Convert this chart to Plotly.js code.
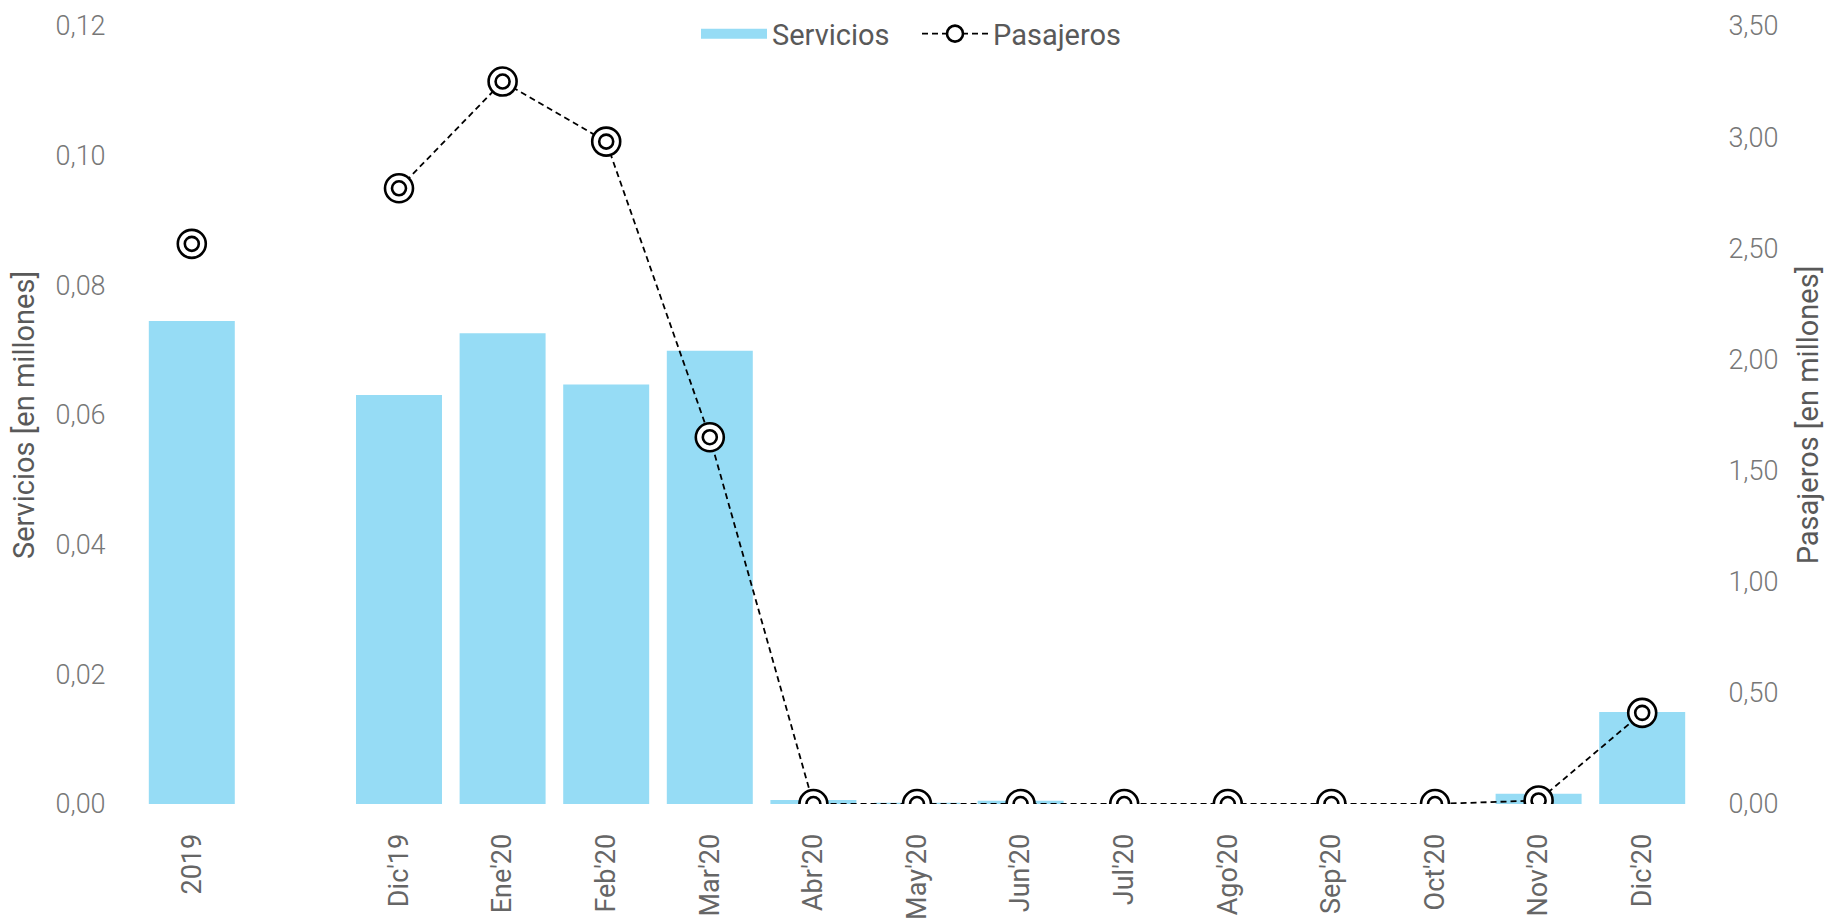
<!DOCTYPE html>
<html>
<head>
<meta charset="utf-8">
<script src="https://cdn.plot.ly/plotly-3.0.1.min.js"></script>
<style>html,body{margin:0;padding:0;background:#fff;}#chart{width:1828px;height:918px;}</style>
</head>
<body>
<div id="chart"></div>
<script>
const categories = ["2019", " ", "Dic'19", "Ene'20", "Feb'20", "Mar'20", "Abr'20", "May'20", "Jun'20", "Jul'20", "Ago'20", "Sep'20", "Oct'20", "Nov'20", "Dic'20"];
const servicios = [0.0745, null, 0.0631, 0.0726, 0.0647, 0.0699, 0.0006, 0.0002, 0.0005, 0.0, 0.0, 0.0, 0.0, 0.0016, 0.0142];
const pasajeros = [2.52, null, 2.77, 3.25, 2.98, 1.65, 0.0, 0.0, 0.0, 0.0, 0.0, 0.0, 0.0, 0.016, 0.41];
const leftTicks = [0, 0.02, 0.04, 0.06, 0.08, 0.10, 0.12];
const leftTickText = ["0,00", "0,02", "0,04", "0,06", "0,08", "0,10", "0,12"];
const rightTicks = [0, 0.5, 1, 1.5, 2, 2.5, 3, 3.5];
const rightTickText = ["0,00", "0,50", "1,00", "1,50", "2,00", "2,50", "3,00", "3,50"];

const FONT = "Roboto, 'Noto Sans', sans-serif";
const BAR_COLOR = '#96dcf5';
const traces = [
  {
    type: 'bar', name: 'Servicios', x: categories, y: servicios,
    marker: {color: BAR_COLOR}, yaxis: 'y', showlegend: false, legendgroup: 's'
  },
  {
    // legend swatch for the bars (wide rectangle as in the reference)
    type: 'scatter', mode: 'lines', name: 'Servicios', x: [null], y: [null],
    yaxis: 'y', legendgroup: 's', hoverinfo: 'skip',
    line: {color: BAR_COLOR, width: 18}
  },
  {
    type: 'scatter', mode: 'lines+markers', name: 'Pasajeros', x: categories, y: pasajeros,
    yaxis: 'y2', connectgaps: false,
    line: {color: '#000', width: 1.8, dash: '6px,4px'},
    marker: {symbol: 'circle', size: 28, color: '#fff', line: {color: '#000', width: 2.6}}
  },
  {
    type: 'scatter', mode: 'markers', name: 'Pasajeros', x: categories, y: pasajeros,
    yaxis: 'y2', showlegend: false, hoverinfo: 'skip',
    marker: {symbol: 'circle-open', size: 14, color: '#000', line: {color: '#000', width: 2.6}}
  }
];

const layout = {
  width: 1828, height: 918,
  paper_bgcolor: '#fff', plot_bgcolor: '#fff',
  margin: {l: 140, r: 134, t: 26, b: 114, autoexpand: false},
  font: {family: FONT, color: '#666', size: 26},
  bargap: 0.17,
  showlegend: true,
  legend: {orientation: 'h', x: 0.5, xanchor: 'center', y: 0.99, yanchor: 'middle',
           itemwidth: 66, entrywidth: 140, entrywidthmode: 'pixels', traceorder: 'normal',
           font: {size: 29, color: '#595959', family: FONT}, bgcolor: 'rgba(0,0,0,0)'},
  xaxis: {
    type: 'category', range: [-0.5, categories.length - 0.5], tickangle: -90,
    showgrid: false, zeroline: false, showline: false, automargin: false,
    ticks: 'outside', ticklen: 18, tickcolor: 'rgba(0,0,0,0)',
    tickfont: {size: 27, color: '#666', family: FONT}
  },
  yaxis: {
    range: [0, 0.12], tickvals: leftTicks, ticktext: leftTickText,
    showgrid: false, zeroline: false, showline: false, automargin: false,
    ticks: 'outside', ticklen: 28, tickcolor: 'rgba(0,0,0,0)',
    tickfont: {size: 27, color: '#777', family: FONT, weight: 300},
    title: {text: 'Servicios [en millones]', font: {size: 29, color: '#595959', family: FONT}, standoff: 12}
  },
  yaxis2: {
    range: [0, 3.5], tickvals: rightTicks, ticktext: rightTickText, overlaying: 'y', side: 'right',
    showgrid: false, zeroline: false, showline: false, automargin: false,
    ticks: 'outside', ticklen: 28, tickcolor: 'rgba(0,0,0,0)',
    tickfont: {size: 27, color: '#777', family: FONT, weight: 300},
    title: {text: 'Pasajeros [en millones]', font: {size: 29, color: '#595959', family: FONT}, standoff: 20}
  }
};

Plotly.newPlot('chart', traces, layout, {displayModeBar: false, staticPlot: true});
</script>
</body>
</html>
